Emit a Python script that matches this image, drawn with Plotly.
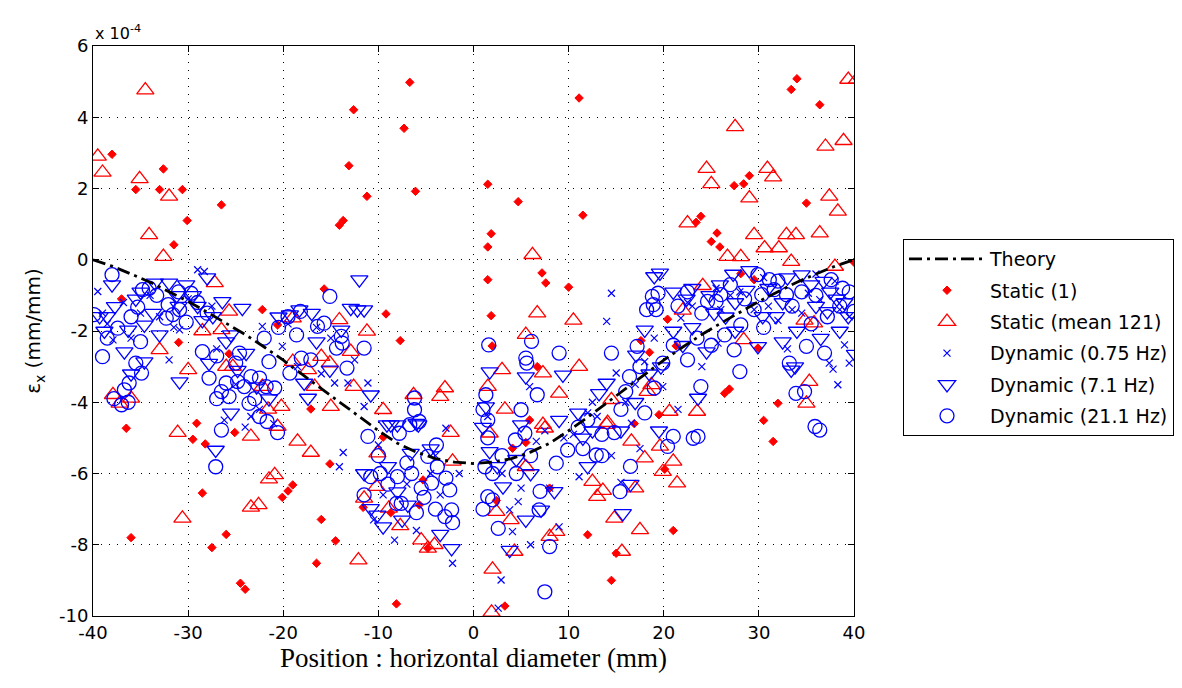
import plotly.graph_objects as go

# strain values are stored in units of 1e-4 mm/mm

# Theory curve
theory_x = [-40, -38, -36, -34, -32, -30, -28, -26, -24, -22, -20, -18, -16, -14, -12, -10, -8, -6, -4, -2, 0,
            2, 4, 6, 8, 10, 12, 14, 16, 18, 20, 22, 24, 26, 28, 30, 32, 34, 36, 38, 40]
theory_y = [0.0, -0.18, -0.40, -0.63, -0.90, -1.17, -1.47, -1.78, -2.10, -2.45, -2.82, -3.22, -3.62, -4.02, -4.42,
            -4.80, -5.15, -5.40, -5.58, -5.68, -5.72,
            -5.68, -5.58, -5.40, -5.15, -4.80, -4.42, -4.02, -3.62, -3.22, -2.82, -2.45, -2.10, -1.78, -1.47,
            -1.17, -0.90, -0.63, -0.40, -0.18, 0.0]

# Static (1)
static1_x = [-38.0, -32.6, -35.5, -33.0, -30.6, -26.5, -30.1,
             -6.7, -12.6, -7.3, -13.1, -6.1, -11.2, -13.7, -14.1,
             11.1, 1.5, 4.7, 11.5, 1.86,
             34.0, 33.4, 36.4, 29.0, 28.4, 27.4, 35.0, 23.9, 23.4, 25.6,
             -31.5, -37.0, -22.2, -31.0, -25.7, -36.5, -29.1,
             -15.7, -9.2, -7.7, -20.6, -17.1,
             1.5, 7.2, 7.6, 1.5, 10.0, 1.86, 1.96, 6.7, 17.6, 18.5, 19.5, 16.9, 5.9,
             25.0, 25.9, 40.0, 28.1, 29.5, 20.4, 21.3, 29.9, 26.4, 26.9, 32.0, 30.5,
             -29.5, -28.2, -25.1, -28.5, -36.0, -26.0, -27.5, -24.5, -24.0,
             -9.5, -15.1, -19.0, -19.5, -20.1, -16.0, -14.5, -16.5, -8.1, -11.6, -8.7, -5.7, -5.3, -4.8,
             3.3, 4.1, 5.5, 8.0, 2.4, 12.0, 15.0, 14.5,
             31.5, 20.1, 21.0]
static1_y = [2.96, 2.55, 1.97, 1.97, 1.97, 1.54, 1.10,
             4.98, 4.21, 3.69, 2.64, 1.92, 1.78, 1.10, 0.97,
             4.54, 2.12, 1.63, 1.25, 0.73,
             5.08, 4.78, 4.35, 2.36, 2.13, 2.08, 1.59, 1.22, 1.05, 0.75,
             0.42, -1.10, -1.40, -2.32, -2.64, -4.73, -4.59,
             -0.82, -1.52, -2.27, -1.83, -4.19,
             0.36, -0.37, -0.65, -0.56, -0.77, -1.57, -2.42, -3.00, -2.27, -2.60, -4.35, -4.60, -4.50,
             0.51, 0.36, -0.07, -0.39, -0.56, -1.67, -2.42, -2.48, -3.75, -3.63, -4.03, -4.51,
             -5.04, -5.17, -4.85, -6.55, -7.80, -7.71, -8.08, -9.08, -9.25,
             -4.98, -5.73, -6.32, -6.49, -6.67, -7.29, -7.89, -8.52, -9.66, -6.95, -7.10, -6.88, -6.18, -8.10,
             -9.72, -5.29, -5.13, -6.41, -6.76, -7.72, -8.24, -9.00,
             -5.10, -5.88, -7.60]

# Static (mean 121)
static121_x = [-39.5, -39.0, -34.5, -35.1, -32.0, -34.1,
               39.4, 40.3, 27.5, 37.0, 38.9, 24.5, 25.0, 30.9, 31.5, 29.0, 37.4, 38.3, 22.5, 29.5, 32.9, 33.9, 36.4,
               -32.6, -27.2, -25.7, -28.5, -26.5, -33.0, -30.0, -26.0, -25.3, -22.2, -37.9, -36.0, -37.2,
               -31.1, -23.4, -22.6, -30.6, -21.5, -23.4,
               -14.1, -11.2, -19.0, -16.0, -19.0, -17.4, -15.1, -12.9, -16.7, -15.0, -12.6, -20.2, -9.5, -6.3,
               -3.0, -3.5, -21.6, -20.6,
               -18.5, -17.1, -20.9, -10.1, -2.4, -2.2, -11.5, -8.9, -7.7, -5.5, -4.8, -4.1, -12.1, -10.2,
               6.2, 6.7, 10.5, 5.5, 3.0, 7.3, 11.1, 1.5, 3.3, 9.0, 14.5, 18.7, 18.3, 14.1, 7.3,
               26.7, 28.1, 30.6, 32.1, 33.4, 38.0, 24.1, 22.0, 28.4, 35.3, 35.8, 34.8, 20.6, 23.5, 35.0,
               1.7, 7.5, 5.5, 14.0, 16.6, 18.0, 12.5, 13.6, 13.0, 17.0, 14.8, 17.5, 3.9, 2.4, 8.7, 8.0, 4.3,
               15.6, 2.0, 1.9,
               19.6, 21.0, 19.9, 21.4]
static121_y = [2.90, 2.45, 4.76, 2.27, 1.78, 0.70,
               5.06, 5.06, 3.73, 3.18, 3.34, 2.56, 2.13, 2.56, 2.32, 1.73, 1.78, 1.36, 1.03, 0.70, 0.70, 0.70, 0.75,
               0.09, -0.65, -1.45, -2.00, -1.97, -2.53, -3.09, -3.00, -3.00, -3.56, -3.79, -3.89, -4.03,
               -4.85, -6.95, -6.88, -7.26, -6.16, -4.96,
               -1.69, -2.01, -1.64, -2.72, -2.86, -3.09, -2.90, -2.58, -3.56, -4.12, -3.56, -4.12, -4.21, -3.79,
               -3.60, -3.84, -4.20, -4.68,
               -5.10, -5.41, -6.04, -5.43, -4.85, -5.66, -6.70, -6.98, -7.47, -7.87, -8.10, -8.00, -8.43, -6.37,
               0.14, -1.50, -1.70, -2.10, -3.09, -3.18, -3.00, -3.56, -4.20, -3.75, -3.93, -3.51, -3.70, -4.57,
               -4.63,
               0.09, 0.08, 0.33, 0.33, -0.05, -0.19, -0.73, -1.42, -2.25, -3.42, -1.78, -1.70, -4.26, -4.26, -4.03,
               -4.87, -4.73, -5.81, -4.63, -5.10, -5.57, -6.23, -6.48, -6.65, -6.41, -7.26, -7.58, -7.30, -7.07,
               -7.63, -7.77, -8.19, -8.19, -8.69, -9.90,
               -5.24, -5.66, -5.95, -6.27]

# Dynamic (0.75 Hz)
dyn075_x = [-39.5, -29.0, -28.3, -30.9, -32.0, -22.2, -23.4, -37.9,
            -12.5, -11.1, -13.2, -14.6, -11.5, -20.1,
            -13.7, -14.1, -8.3, -2.2, -2.9,
            14.5, 14.0, 18.0, 15.0, 5.9, 16.6,
            35.2, 36.4, 21.8, 25.7, 39.0, 37.4, 37.8, 38.3, 29.5, 19.9,
            6.6, 11.1, 5.0, 4.7, 3.8, 4.1, 2.9, 15.5, 2.6, 8.0,
            -33.0, -35.0, -36.0, -27.0, -26.2, -24.0, -21.0, -16.5, -15.0, -10.0, -7.0, -4.5, -3.5, -1.5,
            9.5, 12.0, 17.0, 22.5, 27.0, 31.0, 33.5, 38.5, 39.5, -39.0, -31.5, 24.0, 21.5, 12.5,
            -34.0, -30.0, -27.5, -25.0, -22.5, -18.5, -16.0, -19.5, -36.8, -38.5,
            -9.5, -6.0, -4.0, -10.5,
            1.5, 7.5, 3.0, 9.0, 6.0,
            10.5, 13.0, 16.0, 19.0, 17.5, 14.5,
            23.0, 26.0, 28.0, 30.5, 32.0, 34.5, 36.0, 38.0, 39.5, 25.5, 33.0]
dyn075_y = [-0.89, -0.28, -0.33, -1.97, -2.81, -1.87, -4.40, -2.25,
            -2.81, -3.46, -3.46, -3.46, -4.12, -2.43,
            -5.41, -5.81, -7.87, -8.52, -4.73,
            -0.94, -1.73, -2.86, -3.18, -3.56, -4.59,
            -0.94, -1.12, -1.64, -2.34, -2.39, -2.90, -3.07, -3.51, -1.40, -3.56,
            -5.10, -6.09, -6.41, -6.79, -7.02, -7.63, -8.99, -6.25, -9.78, -6.41,
            -1.60, -1.50, -2.20, -2.50, -4.50, -4.70, -4.60, -1.90, -2.20, -5.20, -6.30, -6.00, -6.60, -6.00,
            -5.00, -4.30, -3.50, -1.20, -1.00, -1.30, -1.40, -1.40, -2.90, -1.50, -1.90, -3.00, -4.20, -4.00,
            -1.00, -1.10, -1.30, -3.50, -4.20, -3.00, -3.20, -1.80, -1.20, -1.80,
            -6.60, -7.60, -5.50, -7.30,
            -4.40, -4.80, -6.00, -7.50, -8.00,
            -4.90, -4.40, -4.00, -2.20, -5.30, -5.50,
            -1.30, -1.40, -0.90, -0.50, -1.70, -1.50, -0.40, -0.60, -1.60, -0.80, -2.50]

# Dynamic (7.1 Hz)
dyn71_x = [-38.0, -37.7, -38.5, -39.3, -33.5, -32.0, -30.2, -33.7, -36.3, -34.6, -27.4, -26.4, -24.3, -36.7,
           -34.6, -30.9, -27.8, -23.9, -22.8,
           -12.0, -12.9, -12.2, -11.5, -19.3, -18.3, -13.9, -15.1, -17.8, -17.4, -10.8, -9.1, -8.0, -6.0,
           -8.7, -5.8, -6.6, -8.0, -10.1, -9.5, -10.8, -2.3, -6.9, -27.1,
           19.0, 18.0, 1.7, 5.5, 9.4, 14.0, 13.2, 1.3, 5.0, 17.1,
           19.6, 25.9, 25.3, 30.4, 31.8, 24.5, 29.9, 34.5, 39.4, 33.4, 19.7, 23.6, 40.1,
           1.7, 3.1, 7.1, 3.8, 15.7,
           22.4, 27.5, 28.7, 32.5, 36.0, 37.2, 38.2, 36.8, 21.0, 26.5, 34.0, 23.0,
           -35.5, -31.2, -29.0, -28.0, -25.5,
           -35.0, -29.5, -31.0, -28.5, -26.0, -24.8, -21.5, -20.5, -17.0, -16.5, -33.0, -38.8, -36.0, -25.5,
           -11.5, -9.0, -7.5, -4.5, -3.5,
           1.0, 2.5, 4.5, 6.0, 8.5, 5.5, 9.0, 11.5,
           11.0, 12.5, 15.5, 17.0, 18.5, 16.5, 19.5, 12.0,
           21.0, 23.0, 24.8, 27.3, 29.0, 31.0, 33.0, 35.5, 37.5, 39.0, 27.5, 32.5, 36.5, 38.5, 22.0, 33.8]
dyn71_y = [-0.70, -1.31, -1.59, -1.59, -0.65, -0.65, -0.70, -1.50, -1.97, -1.83, -1.59, -1.17, -1.36, -2.58,
           -2.86, -3.42, -2.90, -2.62, -3.56,
           -0.56, -1.36, -1.40, -1.40, -1.54, -1.40, -1.97, -3.09, -3.46, -3.88, -3.79, -4.63, -4.63, -4.59,
           -4.63, -4.63, -5.43, -6.51, -7.16, -7.49, -6.98, -8.10, -6.88, -5.34,
           -0.47, -1.97, -3.14, -3.28, -3.23, -3.46, -3.75, -4.12, -4.63, -2.67,
           -0.37, -0.70, -1.50, -1.59, -1.59, -2.58, -2.43, -0.42, -1.59, -3.09, -3.00, -3.88, -2.65,
           -5.38, -6.37, -7.02, -8.15, -7.12,
           -1.10, -1.20, -0.85, -1.20, -1.30, -1.45, -1.10, -0.60, -2.00, -1.60, -2.00, -1.90,
           -1.10, -1.00, -1.30, -0.50, -2.10,
           -0.90, -1.00, -1.30, -1.70, -2.30, -3.10, -3.90, -1.60, -1.50, -2.30, -2.10, -2.00, -3.20, -4.30,
           -6.00, -5.80, -7.30, -5.30, -7.70,
           -4.70, -5.80, -5.60, -6.00, -6.50, -7.30, -4.50, -5.00,
           -4.30, -4.80, -4.80, -4.00, -3.20, -6.30, -4.80, -5.80,
           -0.90, -0.80, -1.00, -0.40, -0.30, -0.80, -0.50, -0.70, -0.90, -1.20, -2.00, -2.30, -2.20, -2.00,
           -2.40, -3.00]

# Dynamic (21.1 Hz)
dyn211_x = [-38.0, -39.9, -39.0, -34.8, -34.1, -35.3, -32.3, -31.6, -32.1, -30.9, -29.7, -37.4, -35.5, -34.9,
            -36.2, -36.7, -37.0, -28.5, -27.8, -26.0, -24.8, -26.5, -25.7, -24.1, -23.4, -22.5, -21.8, -24.6,
            -23.6, -22.5, -21.7,
            -15.1, -18.2, -16.4, -15.7, -18.6, -13.9, -13.8, -14.4, -11.5, -17.1, -18.1, -21.5, -20.9, -19.3,
            -13.3, -6.2, -6.2, -5.7,
            -20.6, -11.1, -10.8, -9.8, -8.0, -8.1, -7.6, -5.5, -5.2, -4.4, -2.9, -2.5, -3.9, -4.8, -3.8, -2.3,
            -2.2, -3.0, -7.8, -6.7,
            18.8, 18.9, 18.2, 14.5, 9.0, 6.1, 1.6, 5.5, 5.6, 6.7, 5.0, 1.3, 16.4, 17.2,
            19.4, 19.2, 24.6, 25.5, 26.0, 29.9, 31.1, 31.6, 30.3, 32.9, 28.1, 26.4, 27.4, 28.0, 23.9, 22.5,
            19.9, 35.0, 36.9, 33.2, 33.9, 34.8, 37.6, 38.8, 35.9,
            21.0, 20.4, 23.1, 23.6, 36.4,
            1.2, 1.5, 2.0, 2.6, 4.4, 8.7, 6.9, 8.0, 7.5, 9.9, 12.9, 14.8, 15.4, 5.4,
            40.0, -27.1, -26.5,
            -33.3, -31.0, -29.0, -28.0, -30.2, -36.0, -38.5, -35.0, -25.0, -27.0, -22.0, -20.5, -19.5, -23.0,
            -27.0, -37.8, -36.3,
            -11.5, -9.0, -6.5, -6.0, -4.0, -7.0, -10.0,
            1.0, 1.5, 1.5, 3.0, 2.0, 6.0, 7.0, 4.5, 1.0,
            11.0, 12.0, 13.5, 15.5, 16.0, 17.5, 13.5, 16.5, 19.0, 18.0, 11.5,
            21.5, 22.5, 24.0, 27.0, 28.5, 29.5, 32.0, 33.5, 34.5, 36.0, 37.2, 38.5, 39.5, 35.5, 30.5, 25.0,
            21.0, 23.5]
dyn211_y = [-0.42, -1.54, -2.72, -0.84, -0.80, -1.33, -1.64, -1.54, -1.26, -1.40, -0.94, -1.92, -2.90, -3.18,
            -3.46, -3.65, -4.07, -2.58, -3.32, -3.46, -3.42, -3.70, -3.84, -3.56, -3.28, -3.32, -3.56, -2.62,
            -4.03, -4.40, -4.54,
            -1.03, -1.45, -1.87, -1.78, -2.11, -2.15, -2.34, -2.48, -2.48, -2.81, -2.76, -2.86, -3.60, -3.18,
            -3.04, -4.21, -3.88, -4.54,
            -4.85, -4.96, -6.09, -6.00, -6.09, -6.84, -6.84, -6.41, -6.67, -6.27, -6.13, -6.46, -5.20, -5.52,
            -5.81, -7.02, -7.38, -7.21, -4.87, -4.63,
            -1.03, -1.26, -1.40, -2.62, -2.62, -2.29, -2.39, -2.76, -2.90, -3.79, -4.21, -3.79, -3.28, -2.43,
            -0.94, -1.40, -1.17, -1.17, -0.98, -0.42, -0.56, -0.84, -0.98, -0.98, -1.83, -2.11, -2.53, -3.14,
            -3.56, -2.81, -2.90, -2.43, -2.62, -2.90, -3.75, -3.70, -0.56, -0.80, -4.68,
            -4.96, -5.24, -5.01, -4.96, -4.78,
            -5.81, -6.65, -6.74, -7.54, -5.06, -5.71, -7.02, -8.05, -9.32, -5.34, -5.48, -4.85, -6.51, -4.87,
            -1.45, -5.81, -4.78,
            -1.00, -0.90, -1.20, -1.50, -1.75, -1.60, -2.20, -2.30, -2.90, -2.70, -2.20, -1.90, -1.60, -3.90,
            -3.90, -3.90, -4.00,
            -6.60, -6.30, -6.00, -7.10, -7.00, -5.70, -5.50,
            -4.20, -4.50, -5.00, -5.50, -6.00, -5.50, -6.50, -6.00, -7.00,
            -4.70, -4.50, -4.90, -4.20, -3.70, -3.00, -5.50, -5.80, -3.60, -4.30, -5.30,
            -1.30, -0.90, -1.50, -0.70, -1.10, -1.40, -0.60, -1.30, -0.90, -1.00, -1.60, -1.30, -0.90, -1.80,
            -1.90, -2.40, -2.40, -2.20]

x_ticks = [-40, -30, -20, -10, 0, 10, 20, 30, 40]
y_ticks = [-10, -8, -6, -4, -2, 0, 2, 4, 6]

RED = "rgb(255,0,0)"
BLUE = "rgb(0,0,255)"
SANS = "DejaVu Sans, Verdana, sans-serif"

fig = go.Figure()

fig.add_trace(go.Scatter(
    x=static1_x, y=static1_y, mode="markers", name="Static (1)", legendrank=2, legendgroup="g2",
    marker=dict(symbol="diamond", size=6.5, color=RED, line=dict(color=RED, width=1))))
fig.add_trace(go.Scatter(
    x=static121_x, y=static121_y, mode="markers", name="Static (mean 121)", legendrank=3, legendgroup="g3",
    marker=dict(symbol="triangle-up-open", size=15, color=RED, line=dict(color=RED, width=1.3))))
fig.add_trace(go.Scatter(
    x=dyn075_x, y=dyn075_y, mode="markers", name="Dynamic (0.75 Hz)", legendrank=4, legendgroup="g4",
    marker=dict(symbol="x-thin-open", size=7, color=BLUE, line=dict(color=BLUE, width=1.2))))
fig.add_trace(go.Scatter(
    x=dyn71_x, y=dyn71_y, mode="markers", name="Dynamic (7.1 Hz)", legendrank=5, legendgroup="g5",
    marker=dict(symbol="triangle-down-open", size=15, color=BLUE, line=dict(color=BLUE, width=1.3))))
fig.add_trace(go.Scatter(
    x=dyn211_x, y=dyn211_y, mode="markers", name="Dynamic (21.1 Hz)", legendrank=6, legendgroup="g6",
    marker=dict(symbol="circle-open", size=14, color=BLUE, line=dict(color=BLUE, width=1.3))))
fig.add_trace(go.Scatter(
    x=theory_x, y=theory_y, mode="lines", name="Theory", legendrank=1, legendgroup="g1",
    line=dict(color="black", width=2.8, dash="13px,5px,3px,5px")))

axis_common = dict(
    showline=True, linecolor="black", linewidth=1, mirror="ticks",
    ticks="inside", ticklen=6, tickcolor="black", tickwidth=1,
    showgrid=True, gridcolor="black", gridwidth=1, griddash="1px,7px",
    zeroline=False, tickfont=dict(family=SANS, size=18, color="black"),
)

fig.update_xaxes(range=[-40, 40], tickvals=x_ticks, ticktext=[str(v) for v in x_ticks],
                 title=dict(text="Position : horizontal diameter (mm)",
                            font=dict(family="Liberation Serif, Times New Roman, serif", size=27, color="black"),
                            standoff=4),
                 **axis_common)
fig.update_yaxes(range=[-10, 6], tickvals=y_ticks, ticktext=[str(v) for v in y_ticks],
                 title=dict(text="ε<sub>x</sub> (mm/mm)",
                            font=dict(family=SANS, size=20, color="black"),
                            standoff=12),
                 **axis_common)

fig.add_annotation(text="x 10<sup>-4</sup>", xref="paper", yref="paper", x=0, y=1,
                   xanchor="left", yanchor="bottom", showarrow=False, yshift=1,
                   font=dict(family=SANS, size=16, color="black"))

fig.update_layout(
    width=1182, height=688,
    margin=dict(l=93, r=328, t=46, b=72, autoexpand=False),
    paper_bgcolor="white", plot_bgcolor="white",
    font=dict(family=SANS, color="black"),
    legend=dict(x=1.0644, y=0.6614, xanchor="left", yanchor="top",
                bordercolor="black", borderwidth=1, bgcolor="white",
                font=dict(family=SANS, size=19, color="black"),
                itemwidth=76, tracegroupgap=3.7, traceorder="grouped"),
)

fig.write_html("out.html")
